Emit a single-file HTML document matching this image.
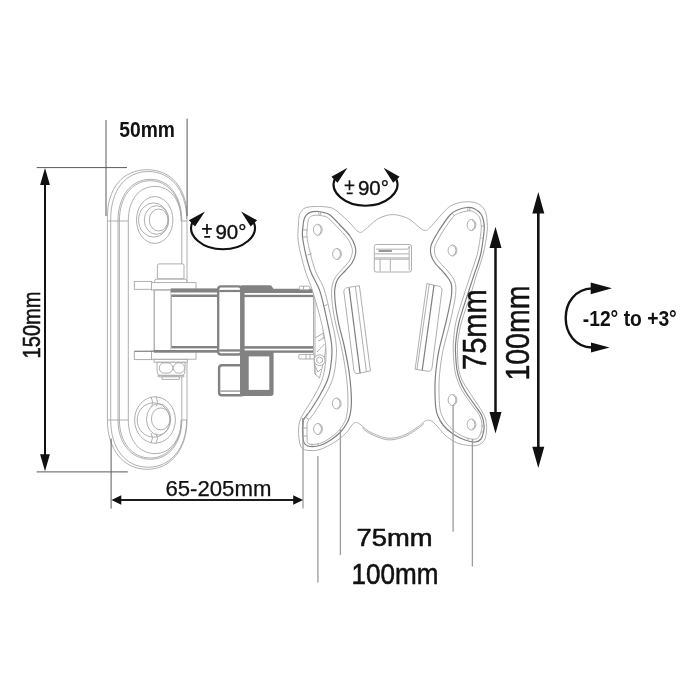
<!DOCTYPE html>
<html>
<head>
<meta charset="utf-8">
<title>Wall mount dimensions</title>
<style>
html,body{margin:0;padding:0;background:#fff;}
body{width:700px;height:700px;overflow:hidden;font-family:"Liberation Sans",sans-serif;}
svg{display:block;filter:grayscale(1);}
text{font-family:"Liberation Sans",sans-serif;fill:#111;}
.ln{fill:none;stroke:#a6a6a6;stroke-width:0.9;}
.lnw{fill:#fff;stroke:#a6a6a6;stroke-width:0.9;}
.lnd{fill:none;stroke:#808080;stroke-width:1.2;}
.dim{fill:none;stroke:#5a5a5a;stroke-width:1;}
.dim2{fill:none;stroke:#9c9c9c;stroke-width:1.3;}
.arm{fill:#808285;stroke:none;}
.armw{fill:#fff;stroke:#808285;}
.blk{fill:#111;stroke:none;}
.bl{fill:none;stroke:#111;}
</style>
</head>
<body>
<svg width="700" height="700" viewBox="0 0 700 700">
<rect x="0" y="0" width="700" height="700" fill="#ffffff"/>

<!-- ============ WALL PLATE ============ -->
<g id="wallplate">
  <!-- outline 1 -->
  <path class="ln" d="M107.4,217 C107.4,188 123,169.7 147.2,169.7 C171,169.7 187,188 187,217 L187,420 C187,449 171,469.3 147.2,469.3 C123,469.3 107.4,449 107.4,420 Z"/>
  <!-- outline 2 -->
  <path class="ln" d="M110.7,219 C110.7,191 125,171.5 148.2,171.5 C170.5,171.5 186.6,190 186.6,219 M110.7,219 L110.7,420 C110.7,448 125,467.2 148.2,467.2 C170.5,467.2 186.6,448 186.6,420"/>
  <!-- outline 3 (double) -->
  <path class="ln" d="M118,221 C118,196 131,179.3 150.5,179.3 C169,179.3 181.8,196 181.8,221 L181.8,420 C181.8,443 169,459.3 150.5,459.3 C131,459.3 118,443 118,420 Z"/>
  <path class="ln" stroke="#8f8f8f" d="M119.4,221 C119.4,197 132,180.7 150.5,180.7 C168,180.7 181.4,197 181.4,221 M119.4,221 V420 C119.4,442 132,458 150.5,458 C168,458 181.4,442 181.4,420"/>
  <!-- outline 4 -->
  <path class="ln" d="M128.3,221 C128.3,200 139,186.4 155,186.4 C170,186.4 181.2,200 181.2,221 M128.3,221 L128.3,420 C128.3,440 139,453.6 155,453.6 C170,453.6 181.2,440 181.2,420"/>
  <!-- tangent ticks -->
  <path class="ln" d="M107.4,221 H128.3 M181,221 H187 M107.4,420 H128.3 M181,420 H187"/>

  <!-- top bolt -->
  <ellipse class="lnw" cx="154.7" cy="220" rx="18.2" ry="23.4"/>
  <ellipse class="ln" cx="153.6" cy="220" rx="15" ry="17.1"/>
  <ellipse class="ln" cx="156.4" cy="220" rx="12.1" ry="14.3"/>
  <ellipse class="ln" cx="158.6" cy="220" rx="9.3" ry="11"/>
  <!-- bottom bolt -->
  <ellipse class="lnw" cx="155" cy="420" rx="20.4" ry="23.2"/>
  <ellipse class="ln" cx="153.6" cy="420" rx="16.4" ry="17.1"/>
  <ellipse class="ln" cx="158.6" cy="419.3" rx="12.1" ry="15.7"/>
  <ellipse class="ln" cx="160.7" cy="418.9" rx="9.3" ry="11"/>
  <path class="ln" d="M151,397 q3,7 0,10 M156,396.5 q3,7 0,10 M151,433 q3,5 0,10 M156,433.5 q3,5 0,10"/>
</g>

<!-- ============ HINGE + ARM ============ -->
<g id="hinge">
  <!-- bolt head -->
  <path class="lnw" d="M157.4,278.8 V265.4 Q157.4,263.9 159,263.9 H182.4 Q184,263.9 184,265.4 V278.8 Z"/>
  <!-- washer -->
  <rect class="lnw" x="154.6" y="279.2" width="32.3" height="4.1" rx="2"/>
  <!-- top flange -->
  <rect class="lnw" x="134.3" y="281.4" width="17.5" height="7.9"/>
  <rect class="lnw" x="151.4" y="282.6" width="44.6" height="7.4"/>
  <!-- hinge cylinder -->
  <rect class="lnw" x="154.2" y="290" width="17" height="61" style="stroke-width:1.2"/>
  <!-- bottom flange -->
  <rect class="lnw" x="134.3" y="351.2" width="17.5" height="8.4"/>
  <rect class="lnw" x="151.4" y="351" width="44.6" height="8.2"/>
  <path class="lnd" d="M134.7,351.3 H196" style="stroke-width:1"/>
  <!-- nut -->
  <rect class="lnw" x="154.1" y="359.4" width="33.2" height="2.8"/>
  <path class="lnw" d="M157,362.3 H185 V369 Q185,375.4 182,375.4 H160 Q157,375.4 157,369 Z"/>
  <rect class="lnw" x="159.3" y="362.9" width="13.5" height="10.2" rx="5"/>
  <rect class="lnw" x="173.6" y="362.9" width="10.8" height="10.2" rx="4.6"/>
  <path class="lnw" d="M158.1,375.4 H183.9 V376.8 H158.1 Z"/>
  <path class="lnw" d="M162.1,376.8 H179.3 V379.4 H162.1 Z"/>
</g>

<g id="arm">
  <rect x="171.2" y="288.6" width="47" height="64" fill="#fff"/>
  <rect x="244" y="288.7" width="69.5" height="64" fill="#fff"/>
  <!-- left arm section -->
  <rect class="arm" x="170.7" y="288.4" width="48" height="4.1"/>
  <rect class="arm" x="171.2" y="294.5" width="47" height="2.5"/>
  <rect class="arm" x="171.2" y="346" width="47" height="2.4"/>
  <rect class="arm" x="153.8" y="350" width="65" height="2.7"/>
  <path class="ln" d="M171.4,297 V346"/>
  <!-- right arm section -->
  <path class="arm" d="M240,293 V287.5 Q240,285.2 242.2,285.2 H269.6 Q271.2,285.2 272,286.4 L273.4,288.7 H313.5 V293 H240 Z"/>
  <rect class="arm" x="244" y="294.8" width="69.5" height="2.3"/>
  <rect class="arm" x="244" y="346.1" width="69.5" height="2.6"/>
  <rect class="arm" x="244" y="350.4" width="69.5" height="2.4"/>
  <path class="ln" d="M313.5,293 V346.1"/>
  <!-- lower tubes -->
  <path class="arm" d="M241.9,351.3 H273.6 V393 Q273.6,395.9 270.7,395.9 H241.9 Z"/>
  <rect x="248.7" y="356.4" width="20.6" height="33.5" fill="#fff"/>
  <rect x="219.1" y="365.3" width="25" height="29.9" rx="2.8" fill="#fff" stroke="#808285" stroke-width="2.4"/>
  <rect x="220.3" y="390.4" width="22" height="1.4" fill="#9a9b9e"/>
  <!-- vertical bar -->
  <rect class="arm" x="240" y="286" width="4.6" height="109.9"/>
  <!-- collar -->
  <rect x="218.2" y="286.4" width="23" height="68.1" rx="2.8" fill="#fff" stroke="#808285" stroke-width="2.3"/>
  <rect class="arm" x="219.3" y="289.9" width="21" height="2.2"/>
  <rect class="arm" x="219.3" y="349.3" width="21" height="2.3"/>
</g>

<path class="lnw" d="M313.6,294 L316,296 C324,308 327.5,322 326.8,336 C326,352 323,366 319.5,378 L315,374 L313.6,352.6 Z"/>
<path class="ln" d="M315,294 V374 M316.5,300 C322,312 324,326 323.2,338 M315,338 L323.5,333 L326.5,336 M318,341 L325.5,337.5 M317,352 L324.5,344 M315.2,366 L318,372 L321,369"/>
<rect class="lnw" x="299.3" y="286.2" width="10.4" height="3.6" rx="1"/>
<path class="lnw" d="M300,354.4 H314.2 V359 H300 Q298.8,359 298.8,357.8 V355.6 Q298.8,354.4 300,354.4 Z"/>
<path class="ln" d="M303.5,286.2 V289.8 M306,354.4 V359 M310,354.4 V359"/>
<circle class="lnw" cx="319.6" cy="360.2" r="5.4"/>
<path class="ln" d="M319.6,357 L322.4,358.6 V361.8 L319.6,363.4 L316.8,361.8 V358.6 Z"/>
<g id="vesa">
<path d="M298.5,224.0 C298.6,219.8 298.7,218.9 299.0,217.0 C299.3,215.1 299.5,214.0 300.5,212.5 C301.5,211.0 302.6,209.0 305.0,208.0 C307.4,207.0 310.8,206.6 315.0,206.5 C319.2,206.4 326.2,206.6 330.0,207.5 C333.8,208.4 334.7,209.4 338.0,212.0 C341.3,214.6 347.1,220.1 350.0,223.0 C352.9,225.9 354.0,228.0 355.7,229.6 C357.4,231.2 358.8,232.4 360.4,232.4 C362.0,232.4 362.5,231.7 365.1,229.6 C367.7,227.5 373.0,222.3 376.1,220.1 C379.2,217.9 381.1,217.1 384.0,216.2 C386.9,215.3 390.2,214.5 393.4,214.6 C396.6,214.7 400.1,215.6 403.0,216.5 C405.9,217.4 407.8,218.2 410.7,220.1 C413.6,222.0 417.7,226.3 420.1,228.0 C422.5,229.7 423.3,230.4 424.9,230.4 C426.5,230.4 426.7,230.8 429.6,228.0 C432.5,225.2 438.7,217.5 442.1,213.9 C445.5,210.3 447.4,208.1 450.0,206.3 C452.6,204.5 455.4,203.8 458.0,203.0 C460.6,202.2 463.0,201.9 465.7,201.8 C468.4,201.7 471.4,201.7 474.0,202.3 C476.6,202.9 479.1,204.0 481.0,205.5 C482.9,207.0 484.3,209.0 485.3,211.4 C486.3,213.8 486.7,216.4 487.0,220.0 C487.3,223.6 487.7,227.2 487.0,233.0 C486.3,238.8 484.8,248.0 483.0,255.0 C481.2,262.0 478.6,268.3 476.5,275.0 C474.4,281.7 473.0,287.2 470.5,295.0 C468.0,302.8 463.6,314.5 461.5,322.0 C459.4,329.5 458.7,335.0 458.0,340.0 C457.3,345.0 457.4,347.3 457.5,352.0 C457.6,356.7 457.8,363.3 458.5,368.0 C459.2,372.7 460.4,376.3 462.0,380.0 C463.6,383.7 465.7,386.3 468.0,390.0 C470.3,393.7 473.3,397.8 476.0,402.0 C478.7,406.2 482.2,411.2 484.0,415.0 C485.8,418.8 486.2,421.7 486.5,425.0 C486.8,428.3 486.6,432.2 486.0,435.0 C485.4,437.8 484.7,440.2 483.0,442.0 C481.3,443.8 479.0,445.0 476.0,445.5 C473.0,446.0 468.5,445.6 465.0,445.0 C461.5,444.4 458.3,443.7 455.0,442.0 C451.7,440.3 447.9,437.6 445.0,435.0 C442.1,432.4 439.4,428.6 437.4,426.4 C435.4,424.2 434.4,423.1 433.0,422.0 C431.6,420.9 430.2,420.2 428.8,420.1 C427.4,420.0 426.2,420.4 424.5,421.5 C422.8,422.6 421.7,424.3 418.6,426.4 C415.5,428.5 410.4,432.3 406.0,434.3 C401.6,436.3 396.1,437.8 391.9,438.2 C387.7,438.6 384.8,437.8 380.9,436.6 C377.0,435.4 371.6,433.0 368.3,431.1 C365.0,429.2 363.0,426.4 361.0,425.0 C359.0,423.6 357.9,422.6 356.5,422.5 C355.1,422.4 354.2,422.8 352.5,424.5 C350.8,426.2 348.9,430.1 346.0,433.0 C343.1,435.9 339.3,439.2 335.0,442.0 C330.7,444.8 324.2,448.1 320.0,449.5 C315.8,450.9 312.8,450.6 310.0,450.5 C307.2,450.4 305.2,450.3 303.5,449.2 C301.8,448.1 300.8,447.2 300.0,444.0 C299.2,440.8 298.3,434.3 298.5,430.0 C298.7,425.7 299.1,422.5 301.0,418.0 C302.9,413.5 306.8,408.5 310.0,403.0 C313.2,397.5 317.6,390.5 320.0,385.0 C322.4,379.5 323.5,375.8 324.5,370.0 C325.5,364.2 326.4,357.5 326.0,350.0 C325.6,342.5 324.2,334.8 322.0,325.0 C319.8,315.2 315.5,300.6 312.7,291.4 C309.9,282.2 307.4,278.2 305.0,270.0 C302.6,261.8 299.4,249.7 298.3,242.0 C297.2,234.3 298.4,228.2 298.5,224.0 Z" fill="#fff" stroke="#b0b0b0" stroke-width="1"/>
<path class="ln" d="M362.0,427.5 C363.1,428.4 365.2,430.8 368.3,432.6 C371.4,434.4 377.0,437.0 380.9,438.2 C384.8,439.4 387.7,440.2 391.9,439.8 C396.1,439.4 401.6,437.9 406.0,435.9 C410.4,433.9 415.6,430.1 418.6,428.0 C421.6,425.9 423.1,424.2 424.0,423.5"/>
<path class="lnd" d="M313.0,211.7 C314.8,211.4 317.2,211.3 319.0,211.5 C320.8,211.7 322.2,212.0 324.0,212.6 C325.8,213.2 327.3,212.9 330.0,215.0 C332.7,217.1 336.7,221.5 340.0,225.0 C343.3,228.5 347.5,232.5 350.0,236.0 C352.5,239.5 354.1,243.0 355.0,246.0 C355.9,249.0 356.0,251.2 355.5,254.0 C355.0,256.8 353.8,260.2 352.0,263.0 C350.2,265.8 347.4,268.2 345.0,271.0 C342.6,273.8 339.2,276.3 337.5,279.5 C335.8,282.7 335.0,285.8 334.7,290.0 C334.4,294.2 334.8,299.2 335.5,305.0 C336.2,310.8 337.6,318.3 339.0,325.0 C340.4,331.7 342.4,337.5 344.0,345.0 C345.6,352.5 347.6,362.5 348.8,370.0 C350.0,377.5 350.6,384.2 351.0,390.0 C351.4,395.8 351.5,400.8 351.3,405.0 C351.1,409.2 350.7,412.0 350.0,415.0 C349.3,418.0 348.7,420.1 347.0,423.0 C345.3,425.9 342.8,429.6 340.0,432.5 C337.2,435.4 333.3,438.3 330.0,440.5 C326.7,442.7 323.3,444.5 320.0,445.5 C316.7,446.5 312.4,446.7 310.0,446.5 C307.6,446.3 306.6,445.4 305.5,444.5 C304.4,443.6 304.0,443.4 303.5,441.0 C303.0,438.6 302.5,433.5 302.5,430.0 C302.5,426.5 302.2,423.2 303.5,420.0 C304.8,416.8 307.2,415.2 310.0,411.0 C312.8,406.8 317.1,400.2 320.0,395.0 C322.9,389.8 325.8,384.5 327.5,380.0 C329.2,375.5 329.8,372.7 330.5,368.0 C331.2,363.3 331.9,356.7 332.0,352.0 C332.1,347.3 331.7,344.5 331.0,340.0 C330.3,335.5 329.8,333.1 328.0,325.0 C326.2,316.9 323.0,300.6 320.0,291.4 C317.0,282.2 313.0,278.6 310.1,270.0 C307.2,261.4 304.1,247.3 302.9,240.0 C301.7,232.7 302.7,229.7 303.0,226.0 C303.3,222.3 303.7,220.1 304.5,218.0 C305.3,215.9 306.6,214.6 308.0,213.5 C309.4,212.4 311.2,212.0 313.0,211.7 Z"/>
<path class="ln" d="M313.7,215.4 C315.1,215.2 317.2,215.2 318.7,215.3 C320.2,215.4 321.4,215.6 322.9,216.0 C324.4,216.4 325.5,215.8 327.9,217.7 C330.4,219.6 334.3,224.0 337.5,227.3 C340.8,230.7 344.9,234.7 347.2,238.0 C349.6,241.3 350.9,244.4 351.7,247.0 C352.6,249.6 352.6,251.0 352.2,253.4 C351.7,255.8 350.7,258.6 349.1,261.2 C347.5,263.8 345.0,266.1 342.6,268.9 C340.2,271.7 336.7,274.6 334.9,278.1 C333.0,281.5 332.1,285.2 331.7,289.8 C331.3,294.3 331.8,299.4 332.5,305.4 C333.2,311.3 334.6,318.9 336.1,325.6 C337.5,332.3 339.5,338.2 341.1,345.6 C342.7,353.1 344.5,363.1 345.6,370.5 C346.7,377.9 347.2,384.5 347.6,390.2 C348.0,396.0 348.0,400.9 347.9,404.9 C347.8,408.9 347.4,411.4 346.9,414.3 C346.4,417.1 346.2,418.9 344.7,421.7 C343.3,424.5 341.1,428.1 338.4,431.0 C335.8,433.8 332.1,436.7 328.9,438.8 C325.7,440.9 322.6,442.7 319.4,443.6 C316.3,444.5 312.1,444.5 310.2,444.3 C308.2,444.1 307.9,442.9 307.4,442.2 C306.9,441.5 307.3,442.3 307.2,440.2 C307.1,438.2 306.9,433.1 307.0,430.0 C307.1,426.9 306.6,424.4 307.7,421.7 C308.8,418.9 311.1,417.6 313.8,413.5 C316.5,409.4 320.9,402.5 323.9,397.2 C326.9,391.9 329.9,386.4 331.7,381.6 C333.5,376.9 334.1,373.6 334.9,368.7 C335.7,363.8 336.4,357.0 336.5,352.1 C336.6,347.2 336.1,344.0 335.5,339.3 C334.8,334.7 334.3,332.2 332.4,324.0 C330.5,315.8 327.3,299.3 324.3,290.0 C321.3,280.8 317.4,277.0 314.6,268.5 C311.7,260.1 308.5,246.3 307.3,239.3 C306.2,232.3 307.3,229.6 307.5,226.3 C307.7,223.0 308.0,221.2 308.5,219.6 C309.0,218.0 309.5,217.4 310.4,216.7 C311.2,216.0 312.3,215.7 313.7,215.4 Z"/>
<path class="lnd" d="M467.0,207.5 C469.7,207.3 471.7,207.4 474.0,208.5 C476.3,209.6 479.4,211.8 481.0,214.0 C482.6,216.2 483.3,219.0 483.8,222.0 C484.3,225.0 484.6,226.5 484.0,232.0 C483.4,237.5 482.2,247.8 480.5,255.0 C478.8,262.2 476.2,268.3 474.0,275.0 C471.8,281.7 470.0,287.2 467.5,295.0 C465.0,302.8 460.9,314.5 459.0,322.0 C457.1,329.5 456.6,335.0 456.0,340.0 C455.4,345.0 455.3,347.0 455.5,352.0 C455.7,357.0 456.2,365.0 457.0,370.0 C457.8,375.0 459.2,378.5 460.5,382.0 C461.8,385.5 462.8,387.3 465.0,391.0 C467.2,394.7 471.2,400.0 474.0,404.0 C476.8,408.0 479.8,411.5 481.5,415.0 C483.2,418.5 483.7,422.2 484.0,425.0 C484.3,427.8 484.0,429.7 483.5,432.0 C483.0,434.3 482.4,437.3 481.0,439.0 C479.6,440.7 477.7,441.8 475.0,442.0 C472.3,442.2 468.7,441.3 465.0,440.0 C461.3,438.7 456.7,436.5 453.0,434.0 C449.3,431.5 445.6,428.2 443.0,425.0 C440.4,421.8 438.8,418.3 437.5,415.0 C436.2,411.7 435.9,410.0 435.5,405.0 C435.1,400.0 434.9,390.8 435.0,385.0 C435.1,379.2 435.3,375.8 436.0,370.0 C436.7,364.2 437.2,358.3 439.0,350.0 C440.8,341.7 444.4,329.2 446.5,320.0 C448.6,310.8 450.8,301.2 451.5,295.0 C452.2,288.8 452.1,286.5 451.0,283.0 C449.9,279.5 447.7,277.3 445.0,274.0 C442.3,270.7 437.3,266.2 435.0,263.0 C432.7,259.8 431.7,257.5 431.0,255.0 C430.3,252.5 430.4,250.0 430.6,248.0 C430.8,246.0 430.8,245.7 432.0,243.0 C433.2,240.3 435.0,236.7 438.0,232.0 C441.0,227.3 446.7,218.7 450.0,215.0 C453.3,211.3 455.2,211.1 458.0,209.8 C460.8,208.6 464.3,207.7 467.0,207.5 Z"/>
<path class="ln" d="M467.3,211.0 C469.5,210.7 470.8,210.6 472.7,211.4 C474.5,212.2 477.2,213.9 478.6,215.8 C479.9,217.6 480.4,219.8 480.8,222.5 C481.2,225.1 481.6,226.4 481.0,231.7 C480.4,237.0 479.0,247.2 477.3,254.3 C475.6,261.3 472.9,267.3 470.8,273.9 C468.6,280.6 466.7,286.1 464.3,294.0 C461.8,301.9 457.9,313.6 456.1,321.3 C454.3,328.9 454.1,334.6 453.6,339.7 C453.2,344.9 453.1,347.0 453.3,352.1 C453.5,357.2 454.0,365.2 454.8,370.4 C455.7,375.5 457.1,379.2 458.4,382.8 C459.8,386.4 460.8,388.4 463.1,392.2 C465.4,395.9 469.4,401.3 472.2,405.2 C474.9,409.2 478.1,412.5 479.7,415.9 C481.3,419.2 481.8,422.6 482.0,425.2 C482.2,427.8 481.6,429.5 481.1,431.5 C480.5,433.4 479.8,435.8 478.7,437.1 C477.7,438.3 477.0,439.1 474.8,439.2 C472.7,439.3 469.2,438.8 465.9,437.6 C462.5,436.3 458.0,434.0 454.7,431.5 C451.4,429.0 448.2,425.6 445.9,422.6 C443.7,419.6 442.3,416.6 441.2,413.6 C440.2,410.6 439.9,409.4 439.5,404.7 C439.1,399.9 438.9,390.8 439.0,385.1 C439.1,379.4 439.3,376.2 440.0,370.5 C440.6,364.7 441.2,359.1 442.9,350.8 C444.7,342.6 448.3,330.1 450.4,320.9 C452.5,311.7 454.7,302.0 455.5,295.5 C456.2,289.0 456.0,285.8 454.8,281.8 C453.6,277.8 450.9,275.0 448.1,271.5 C445.4,268.0 440.4,263.6 438.2,260.6 C436.0,257.7 435.4,255.9 434.8,253.9 C434.2,251.8 434.5,249.9 434.6,248.3 C434.7,246.8 434.5,247.1 435.6,244.7 C436.7,242.3 438.4,238.6 441.2,234.1 C444.0,229.5 449.6,220.9 452.7,217.4 C455.7,213.9 457.0,214.1 459.4,213.0 C461.8,211.9 465.1,211.3 467.3,211.0 Z"/>
<path class="ln" d="M303,230 H307.5 M303,237 H307.5 M318.5,211.5 l0.6,3.6 M320.3,211.6 l0.6,3.6 M307.5,255 l4.2,-1.4 M324,305.8 l3.6,-1.2 M302.7,428 H307.2 M302.7,436 H307.2 M309,419.5 l-3.8,-2.6 M318,445.5 v-2.2 M312,446.4 v-2.6 M468,207.5 l-0.5,3.4 M470,207.8 l-0.5,3.4 M454.5,216 l-2,-2.6 M481.3,226 H484 M481.3,238 H484 M481.5,426 H484 M481,432 H483.4 M468,440.6 v-2.6 M472.5,441.6 v-2.6"/>
<ellipse class="ln" cx="317.8" cy="229.8" rx="4.4" ry="5.5"/>
<path class="ln" d="M318.4,225.1 a3.6,4.8 0 0 1 0,9.4"/>
<ellipse class="ln" cx="337.0" cy="254.0" rx="4.4" ry="5.5"/>
<path class="ln" d="M337.6,249.3 a3.6,4.8 0 0 1 0,9.4"/>
<ellipse class="ln" cx="336.7" cy="403.5" rx="4.4" ry="5.5"/>
<path class="ln" d="M337.3,398.8 a3.6,4.8 0 0 1 0,9.4"/>
<ellipse class="ln" cx="318.0" cy="429.0" rx="4.4" ry="5.5"/>
<path class="ln" d="M318.6,424.3 a3.6,4.8 0 0 1 0,9.4"/>
<ellipse class="ln" cx="471.5" cy="225.0" rx="4.4" ry="5.5"/>
<path class="ln" d="M472.1,220.3 a3.6,4.8 0 0 1 0,9.4"/>
<ellipse class="ln" cx="452.5" cy="250.5" rx="4.4" ry="5.5"/>
<path class="ln" d="M453.1,245.8 a3.6,4.8 0 0 1 0,9.4"/>
<ellipse class="ln" cx="452.5" cy="400.0" rx="4.4" ry="5.5"/>
<path class="ln" d="M453.1,395.3 a3.6,4.8 0 0 1 0,9.4"/>
<ellipse class="ln" cx="471.5" cy="424.5" rx="4.4" ry="5.5"/>
<path class="ln" d="M472.1,419.8 a3.6,4.8 0 0 1 0,9.4"/>
<rect class="ln" x="374.3" y="244.5" width="37.2" height="27.5" rx="2"/>
<path class="ln" d="M376,249.2 H407.5 L409.5,246.6 M409.2,246 V270.5 M375,253.9 H409 M374.5,257.9 H409 M374.5,259.2 H409 M380.1,259.2 V271.5 M390.3,259.2 V271.5"/>
<rect x="378.5" y="250" width="13.4" height="2" fill="#999"/>
<path class="ln" d="M347.3,287.6 L359.4,285.7 L370.4,370.9 L358,373.6 Q354.6,374.2 354,371 L343.9,292 Q343.5,288.4 347.3,287.6 Z"/>
<path class="lnd" d="M349.1,287.9 L360.1,373.2"/>
<path class="ln" d="M355.4,286.8 L366.4,371.6"/>
<path class="ln" d="M426.9,283.6 L438.6,286.2 Q442.4,287 441.9,290.7 L432,367.7 Q431.5,371.6 428,371.2 L415.1,369.3 Z"/>
<path class="ln" d="M429.3,284.1 L416.9,369.6"/>
<path class="lnd" d="M434,285.2 L422.2,370.4"/>
</g>
<path class="dim" d="M106,120 V216 M187.1,118.6 V216 M36.7,167.6 H127 M36.7,471.9 H127.8 M111.1,438.6 V508.6"/>
<path class="lnd" d="M302.8,418 V425.5"/>
<path class="dim2" d="M303,418 V508.6 M340.4,429.5 V555 M453.1,405 V531.8 M317.9,456 V582.5 M472.4,439.5 V566.4"/>
<path class="blk" d="M45.0,168.0 L40.1,185.0 L49.9,185.0 Z M45.0,471.3 L40.1,454.3 L49.9,454.3 Z"/><rect class="blk" x="44.00" y="184.0" width="2.00" height="271.3"/>
<path class="blk" d="M111.5,500.0 L121.3,495.3 L121.3,504.7 Z M303.0,500.0 L293.2,495.3 L293.2,504.7 Z"/><rect class="blk" x="120.3" y="499.05" width="173.9" height="1.90"/>
<path class="blk" d="M495.5,226.7 L489.5,248.0 L501.5,248.0 Z M495.5,433.4 L489.5,412.1 L501.5,412.1 Z"/><rect class="blk" x="494.25" y="247.0" width="2.50" height="166.1"/>
<path class="blk" d="M538.3,192.1 L532.3,213.4 L544.3,213.4 Z M538.3,468.0 L532.3,446.7 L544.3,446.7 Z"/><rect class="blk" x="537.00" y="212.4" width="2.60" height="235.3"/>
<text x="119.3" y="137.1" font-size="21.6" textLength="55.7" lengthAdjust="spacingAndGlyphs" font-weight="bold">50mm</text>
<text x="39.8" y="358.4" font-size="24.2" textLength="66.8" lengthAdjust="spacingAndGlyphs" transform="rotate(-90 39.8 358.4)" stroke="#111" stroke-width="0.60">150mm</text>
<text x="165.4" y="495.6" font-size="21.3" textLength="106.0" lengthAdjust="spacingAndGlyphs" stroke="#111" stroke-width="0.25">65-205mm</text>
<text x="356.6" y="545.6" font-size="24.3" textLength="76.0" lengthAdjust="spacingAndGlyphs" stroke="#111" stroke-width="0.55">75mm</text>
<text x="351.6" y="584.4" font-size="28.6" textLength="87.0" lengthAdjust="spacingAndGlyphs" stroke="#111" stroke-width="0.55">100mm</text>
<text x="486.2" y="369.9" font-size="33.0" textLength="80.6" lengthAdjust="spacingAndGlyphs" transform="rotate(-90 486.2 369.9)" stroke="#111" stroke-width="0.50">75mm</text>
<text x="529.0" y="380.6" font-size="33.0" textLength="95.0" lengthAdjust="spacingAndGlyphs" transform="rotate(-90 529.0 380.6)" stroke="#111" stroke-width="0.50">100mm</text>
<text x="582.8" y="325.6" font-size="21.8" textLength="94.0" lengthAdjust="spacingAndGlyphs" font-weight="bold">-12&#176; to +3&#176;</text>
<path class="bl" stroke-width="2.4" d="M592,288.4 C575,289 565.7,303 565.7,318 C565.7,333 575,347 592,347.5"/>
<path class="blk" d="M612,288.3 L590.7,282.5 L590.7,294.3 Z M609.6,347.4 L591,342.5 L591,352.6 Z"/>
<g id="pm90"><path class="bl" stroke-width="2.1" d="M192.3,222.5 C186.5,236 203,249.3 223,249.3 C243,249.3 259.5,236 253.8,222.5"/><path class="blk" d="M205,211.4 L188.9,220.3 L195,226.4 Z M241.1,211.4 L257.1,220.3 L250.7,226.4 Z"/><path class="bl" stroke-width="1.7" d="M202.1,228.9 H211.8 M207,223.9 V233.9 M204.2,236.9 H210.2"/><text x="215.4" y="238.6" font-size="20.5" stroke="#111" stroke-width="0.35">90&#176;</text></g>
<g transform="translate(142.5,-43.6)"><path class="bl" stroke-width="2.1" d="M192.3,222.5 C186.5,236 203,249.3 223,249.3 C243,249.3 259.5,236 253.8,222.5"/><path class="blk" d="M205,211.4 L188.9,220.3 L195,226.4 Z M241.1,211.4 L257.1,220.3 L250.7,226.4 Z"/><path class="bl" stroke-width="1.7" d="M202.1,228.9 H211.8 M207,223.9 V233.9 M204.2,236.9 H210.2"/><text x="215.4" y="238.6" font-size="20.5" stroke="#111" stroke-width="0.35">90&#176;</text></g>
</svg>
</body>
</html>
